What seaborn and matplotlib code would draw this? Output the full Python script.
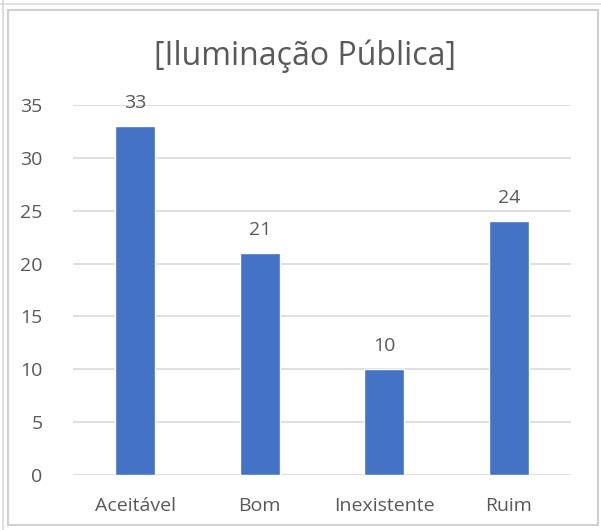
import matplotlib
matplotlib.use("Agg")
import matplotlib.pyplot as plt
import seaborn as sns
import pandas as pd
from matplotlib.patches import Rectangle

categories = ["Aceitável", "Bom", "Inexistente", "Ruim"]
values = [33, 21, 10, 24]
yticks = [0, 5, 10, 15, 20, 25, 30, 35]
title = "[Iluminação Pública]"

sns.set_theme(style="white")
plt.rcParams['font.family'] = ['Open Sans', 'DejaVu Sans']

df = pd.DataFrame({"cat": categories, "val": values})
txt = "#595959"

fig = plt.figure(figsize=(6.01, 5.30), dpi=100)
ax = fig.add_axes([73/601, 1-475/530, (571-73)/601, (475-105)/530])
sns.barplot(data=df, x="cat", y="val", color="#4472C4", width=0.32, saturation=1, ax=ax, zorder=3)
ax.set_ylim(0, 35)
ax.set_xlim(-0.5, 3.5)
ax.set_yticks(yticks)
ax.grid(axis="y", color="#D9D9D9", linewidth=1.2, zorder=0)
for s in ax.spines.values():
    s.set_visible(False)
ax.set_xlabel("")
ax.set_ylabel("")
ax.tick_params(axis="both", length=0, labelsize=14, colors=txt)
ax.tick_params(axis="x", pad=16)
ax.tick_params(axis="y", pad=22)
for c in ax.containers:
    ax.bar_label(c, labels=[str(v) for v in values], padding=10, fontsize=14, color=txt)
fig.text(0.507, 1-56/530, title, ha="center", va="center", fontsize=23, color=txt)

# frame lines
fig.patches.append(Rectangle((8/601, 5/530), 590/601, 515/530, transform=fig.transFigure,
                             fill=False, edgecolor="#D0D0D0", linewidth=1.5))
fig.lines.append(plt.Line2D([3/601, 3/601], [0, 1], transform=fig.transFigure, color="#D9D9D9", lw=1.2))
fig.lines.append(plt.Line2D([0, 1], [1-4/530, 1-4/530], transform=fig.transFigure, color="#D9D9D9", lw=1.2))
fig.savefig("out.png", dpi=100)
